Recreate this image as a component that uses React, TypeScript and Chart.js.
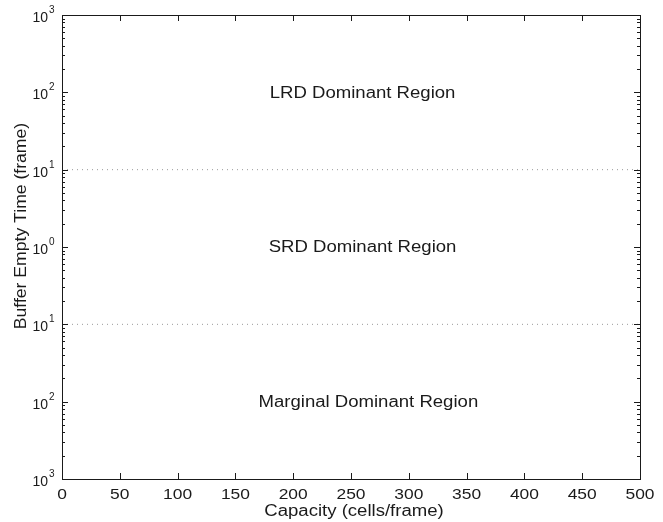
import React, { useEffect, useRef } from "react";
import { Chart, registerables } from "chart.js";

Chart.register(...registerables);

// ---- data ----
const capacity = [0, 500];
const lrdBoundary = [10, 10];
const marginalBoundary = [0.1, 0.1];
const regionLabels = ["LRD Dominant Region", "SRD Dominant Region", "Marginal Dominant Region"];
const regionX = [260, 260, 265];
const regionY = [100, 1, 0.01];
const xTicks = [0, 50, 100, 150, 200, 250, 300, 350, 400, 450, 500];
const yTickValues = [1000, 100, 10, 1, 0.1, 0.01, 0.001];
const yTickExponents = ["3", "2", "1", "0", "1", "2", "3"];
const xTitle = "Capacity (cells/frame)";
const yTitle = "Buffer Empty Time (frame)";

const FONT = "'Liberation Sans', Arial, Helvetica, sans-serif";
const SX = 1.16;
const INK = "#1a1a1a";

function stretchedText(
  ctx: CanvasRenderingContext2D,
  text: string,
  x: number,
  y: number,
  size: number,
  align: CanvasTextAlign,
  baseline: CanvasTextBaseline,
  rotate = false,
  sx = SX
) {
  ctx.save();
  ctx.translate(x, y);
  if (rotate) ctx.rotate(-Math.PI / 2);
  ctx.scale(sx, 1);
  ctx.font = `${size}px ${FONT}`;
  ctx.textAlign = align;
  ctx.textBaseline = baseline;
  ctx.fillStyle = INK;
  ctx.fillText(text, 0, 0);
  ctx.restore();
}

const matlabAxes = {
  id: "matlabAxes",
  afterDraw(chart: any) {
    const ctx: CanvasRenderingContext2D = chart.ctx;
    const { left, right, top, bottom } = chart.chartArea;
    const xs = chart.scales.x;
    const ys = chart.scales.y;
    ctx.save();
    ctx.strokeStyle = INK;
    ctx.lineWidth = 1;
    // box
    ctx.strokeRect(Math.round(left) + 0.5, Math.round(top) + 0.5, Math.round(right - left), Math.round(bottom - top));
    ctx.beginPath();
    // x ticks (bottom & top, inward)
    xTicks.forEach((v) => {
      const px = Math.round(xs.getPixelForValue(v)) + 0.5;
      ctx.moveTo(px, bottom);
      ctx.lineTo(px, bottom - 6);
      ctx.moveTo(px, top);
      ctx.lineTo(px, top + 6);
    });
    // y ticks major + minor (left & right, inward)
    for (let e = -3; e <= 3; e++) {
      const base = Math.pow(10, e);
      const py = Math.round(ys.getPixelForValue(base)) + 0.5;
      ctx.moveTo(left, py);
      ctx.lineTo(left + 6, py);
      ctx.moveTo(right, py);
      ctx.lineTo(right - 6, py);
      if (e < 3) {
        for (let m = 2; m <= 9; m++) {
          const my = Math.round(ys.getPixelForValue(base * m)) + 0.5;
          ctx.moveTo(left, my);
          ctx.lineTo(left + 3, my);
          ctx.moveTo(right, my);
          ctx.lineTo(right - 3, my);
        }
      }
    }
    ctx.stroke();
    ctx.restore();

    // x tick labels
    xTicks.forEach((v) => {
      stretchedText(ctx, String(v), xs.getPixelForValue(v), bottom + 20, 15, "center", "alphabetic");
    });
    // y tick labels
    yTickValues.forEach((v, i) => {
      const py = ys.getPixelForValue(v);
      stretchedText(ctx, "10", left - 14, py + 7, 14, "right", "alphabetic", false, 1.0);
      stretchedText(ctx, yTickExponents[i], left - 13, py - 2, 10, "left", "alphabetic", false, 1.0);
    });
    // titles
    stretchedText(ctx, xTitle, (left + right) / 2 + 3, bottom + 37, 16, "center", "alphabetic");
    stretchedText(ctx, yTitle, 26, 226, 16, "center", "alphabetic", true, 1.1);
    // region labels
    regionLabels.forEach((t, i) => {
      stretchedText(ctx, t, xs.getPixelForValue(regionX[i]), ys.getPixelForValue(regionY[i]) + 1, 16, "center", "middle");
    });
  },
};

export default function App() {
  const ref = useRef<HTMLCanvasElement>(null);
  useEffect(() => {
    document.body.style.margin = "0";
    const canvas = ref.current!;
    const chart = new Chart(canvas, {
      type: "line",
      data: {
        datasets: [
          {
            data: capacity.map((x, i) => ({ x, y: lrdBoundary[i] })),
            borderColor: "#9a9a9a",
            borderWidth: 1,
            borderDash: [1, 4],
            pointRadius: 0,
            fill: false,
          },
          {
            data: capacity.map((x, i) => ({ x, y: marginalBoundary[i] })),
            borderColor: "#9a9a9a",
            borderWidth: 1,
            borderDash: [1, 4],
            pointRadius: 0,
            fill: false,
          },
        ],
      },
      options: {
        responsive: false,
        animation: false,
        devicePixelRatio: 1,
        layout: { padding: { left: 62, right: 23, top: 15, bottom: 43 } },
        plugins: { legend: { display: false }, tooltip: { enabled: false } },
        scales: {
          x: { type: "linear", min: 0, max: 500, display: false },
          y: { type: "logarithmic", min: 0.001, max: 1000, display: false },
        },
      },
      plugins: [matlabAxes],
    });
    return () => chart.destroy();
  }, []);
  return (
    <div style={{ position: "absolute", left: 0, top: 0, width: 663, height: 522, background: "#fff" }}>
      <canvas ref={ref} width={663} height={522} />
    </div>
  );
}
